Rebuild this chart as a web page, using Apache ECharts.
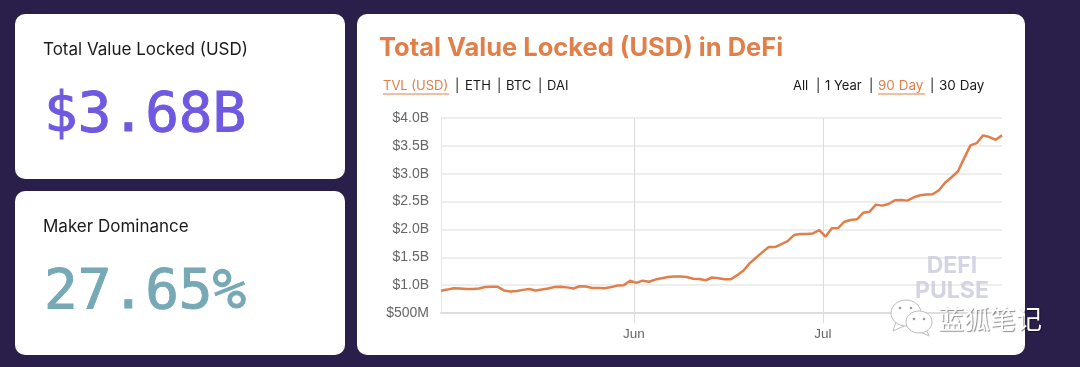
<!DOCTYPE html>
<html>
<head>
<meta charset="utf-8">
<style>
  html, body { margin: 0; padding: 0; background: #2a1e4a; }
  #chart { width: 1080px; height: 367px; }
</style>
<script src="https://cdn.jsdelivr.net/npm/echarts@6/dist/echarts.min.js"></script>
</head>
<body>
<div id="chart"></div>
<script>
// daily TVL in $B, first point is May 1
const tvlValues = [
  0.90, 0.92, 0.945, 0.94, 0.93, 0.93, 0.94, 0.965, 0.97, 0.97,
  0.905, 0.885, 0.895, 0.915, 0.93, 0.905, 0.92, 0.94, 0.965, 0.97,
  0.96, 0.94, 0.98, 0.975, 0.95, 0.95, 0.945, 0.965, 0.995, 1.0,
  1.08, 1.04, 1.08, 1.06, 1.10, 1.125, 1.145, 1.155, 1.155, 1.145,
  1.115, 1.11, 1.088, 1.137, 1.125, 1.107, 1.107, 1.179, 1.263, 1.395,
  1.497, 1.593, 1.683, 1.683, 1.737, 1.791, 1.899, 1.917, 1.917, 1.929,
  1.989, 1.869, 2.019, 2.025, 2.139, 2.169, 2.181, 2.301, 2.319, 2.445,
  2.427, 2.457, 2.523, 2.529, 2.517, 2.577, 2.613, 2.625, 2.631, 2.703,
  2.841, 2.937, 3.039, 3.28, 3.508, 3.55, 3.688, 3.658, 3.61, 3.688
]
const firstDay = new Date(2019, 4, 1, 10).getTime()
const dayMs = 86400000
const monthTicks = [new Date(2019, 5, 1).getTime(), new Date(2019, 6, 1).getTime()]
const monthLabels = ['Jun', 'Jul']
const yTicks = { 0.5: '$500M', 1: '$1.0B', 1.5: '$1.5B', 2: '$2.0B', 2.5: '$2.5B', 3: '$3.0B', 3.5: '$3.5B', 4: '$4.0B' }

const tvlSeries = tvlValues.map((v, i) => [firstDay + i * dayMs, v])

const ORANGE = '#e07f4a'
const uiFont = 'Inter, "Noto Sans", sans-serif'
const axisFont = '"Liberation Sans", Arial, sans-serif'
const monoFont = '"DejaVu Sans Mono", monospace'

const card = (x, y, width, height) => ({
  type: 'rect', z: 0, shape: { x, y, width, height, r: 10 }, style: { fill: '#fff' }
})
const label = (x, y, text, fill, fontSize, extra = {}) => ({
  type: 'text', z: 1, x, y,
  style: { text, fill, fontSize, fontFamily: uiFont, textVerticalAlign: 'middle', ...extra }
})
// the big figures, stroked a little because the mono font is lighter than the original
const bigNumber = (y, text, fill) => ({
  type: 'text', z: 1, x: 44, y,
  style: { text, fill, stroke: fill, lineWidth: 1, fontSize: 56, fontFamily: monoFont, textVerticalAlign: 'middle' }
})
const underline = (x1, x2, y) => ({
  type: 'line', z: 1, shape: { x1, y1: y, x2, y2: y }, style: { stroke: ORANGE, lineWidth: 1 }
})
const bubble = (cx, cy, rx, ry) => ({
  type: 'ellipse', z: 20, shape: { cx, cy, rx, ry },
  style: { fill: 'rgba(255,255,255,0.92)', stroke: '#bdbdbd', lineWidth: 1 }
})
const tail = points => ({
  type: 'polygon', z: 20, shape: { points }, style: { fill: '#fff', stroke: '#bdbdbd', lineWidth: 1 }
})
const dot = (cx, cy) => ({
  type: 'circle', z: 21, shape: { cx, cy, r: 1.3 }, style: { fill: '#9a9a9a' }
})
const watermark = (x, y, text) => ({
  type: 'text', z: 15, x, y,
  style: {
    text, fill: 'rgba(205,205,222,0.85)', fontSize: 23, fontWeight: 'bold', fontFamily: uiFont,
    textAlign: 'center', textVerticalAlign: 'middle',
    textShadowColor: 'rgba(205,205,222,0.5)', textShadowOffsetX: 2, textShadowOffsetY: 2
  }
})

const chart = echarts.init(document.getElementById('chart'))
chart.setOption({
  animation: false,
  backgroundColor: '#2a1e4a',
  grid: { left: 441, right: 78, top: 118, bottom: 54 },
  xAxis: {
    // value axis over timestamps: a time axis throws on customValues
    type: 'value',
    min: firstDay,
    max: firstDay + 89 * dayMs,
    axisLine: { lineStyle: { color: '#dedede', width: 2 } },
    axisTick: { show: true, customValues: monthTicks, length: 10, lineStyle: { color: '#dcdcdc' } },
    splitLine: { show: false },
    axisLabel: {
      customValues: monthTicks,
      color: '#666',
      fontSize: 13.5,
      fontFamily: axisFont,
      margin: 14,
      formatter: v => monthLabels[monthTicks.indexOf(v)]
    }
  },
  yAxis: {
    type: 'value',
    min: 0.5,
    max: 4,
    interval: 0.5,
    axisLine: { show: true, lineStyle: { color: '#e6e6e6', width: 1 } },
    axisTick: { show: false },
    splitLine: { lineStyle: { color: '#e8e8e8', width: 1.5 } },
    axisLabel: {
      color: '#666',
      fontSize: 14,
      fontFamily: axisFont,
      margin: 12,
      formatter: v => yTicks[v]
    }
  },
  series: [
    {
      type: 'line',
      data: tvlSeries,
      showSymbol: false,
      z: 5,
      lineStyle: { color: ORANGE, width: 2.5 },
      markLine: {
        silent: true,
        symbol: 'none',
        animation: false,
        z: 2,
        lineStyle: { color: '#dcdcdc', width: 1, type: 'solid' },
        label: { show: false },
        data: monthTicks.map(t => ({ xAxis: t }))
      }
    }
  ],
  graphic: [
    card(15, 14, 330, 165),
    card(15, 191, 330, 164),
    card(357, 14, 668, 341),

    label(43, 50, 'Total Value Locked (USD)', '#1a1a1a', 17),
    bigNumber(116, '$3.68B', '#6f59e0'),
    label(43, 227, 'Maker Dominance', '#1a1a1a', 17),
    bigNumber(293, '27.65%', '#76a9b5'),

    label(379, 48, 'Total Value Locked (USD) in DeFi', ORANGE, 25.5, { fontWeight: 'bold' }),

    label(383, 86, 'TVL (USD)', ORANGE, 13),
    underline(383, 449, 94),
    label(455, 86, '|', '#1a1a1a', 13),
    label(465, 86, 'ETH', '#1a1a1a', 13),
    label(497, 86, '|', '#1a1a1a', 13),
    label(506, 86, 'BTC', '#1a1a1a', 13),
    label(538, 86, '|', '#1a1a1a', 13),
    label(547, 86, 'DAI', '#1a1a1a', 13),

    label(793, 86, 'All', '#1a1a1a', 13),
    label(816, 86, '|', '#1a1a1a', 13),
    label(825, 86, '1 Year', '#1a1a1a', 13),
    label(869, 86, '|', '#1a1a1a', 13),
    label(878, 86, '90 Day', ORANGE, 13.5),
    underline(878, 925, 94),
    label(930, 86, '|', '#1a1a1a', 13),
    label(939, 86, '30 Day', '#1a1a1a', 13.5),

    watermark(952, 266, 'DEFI'),
    watermark(952, 291, 'PULSE'),

    tail([[896, 322], [893, 331], [904, 326]]),
    bubble(906, 313, 15, 13),
    dot(900, 308), dot(911, 308),
    tail([[926, 329], [929, 336], [920, 332]]),
    bubble(919, 322, 13, 11),
    dot(914, 319), dot(924, 319),
    {
      type: 'text', z: 22, x: 938, y: 319,
      style: {
        text: '蓝狐笔记', fill: '#fff', fontSize: 26, fontFamily: '"Noto Sans CJK SC", sans-serif',
        textVerticalAlign: 'middle', textShadowColor: 'rgba(0,0,0,0.45)', textShadowBlur: 1, textShadowOffsetX: 1, textShadowOffsetY: 1
      }
    }
  ]
})
</script>
</body>
</html>
